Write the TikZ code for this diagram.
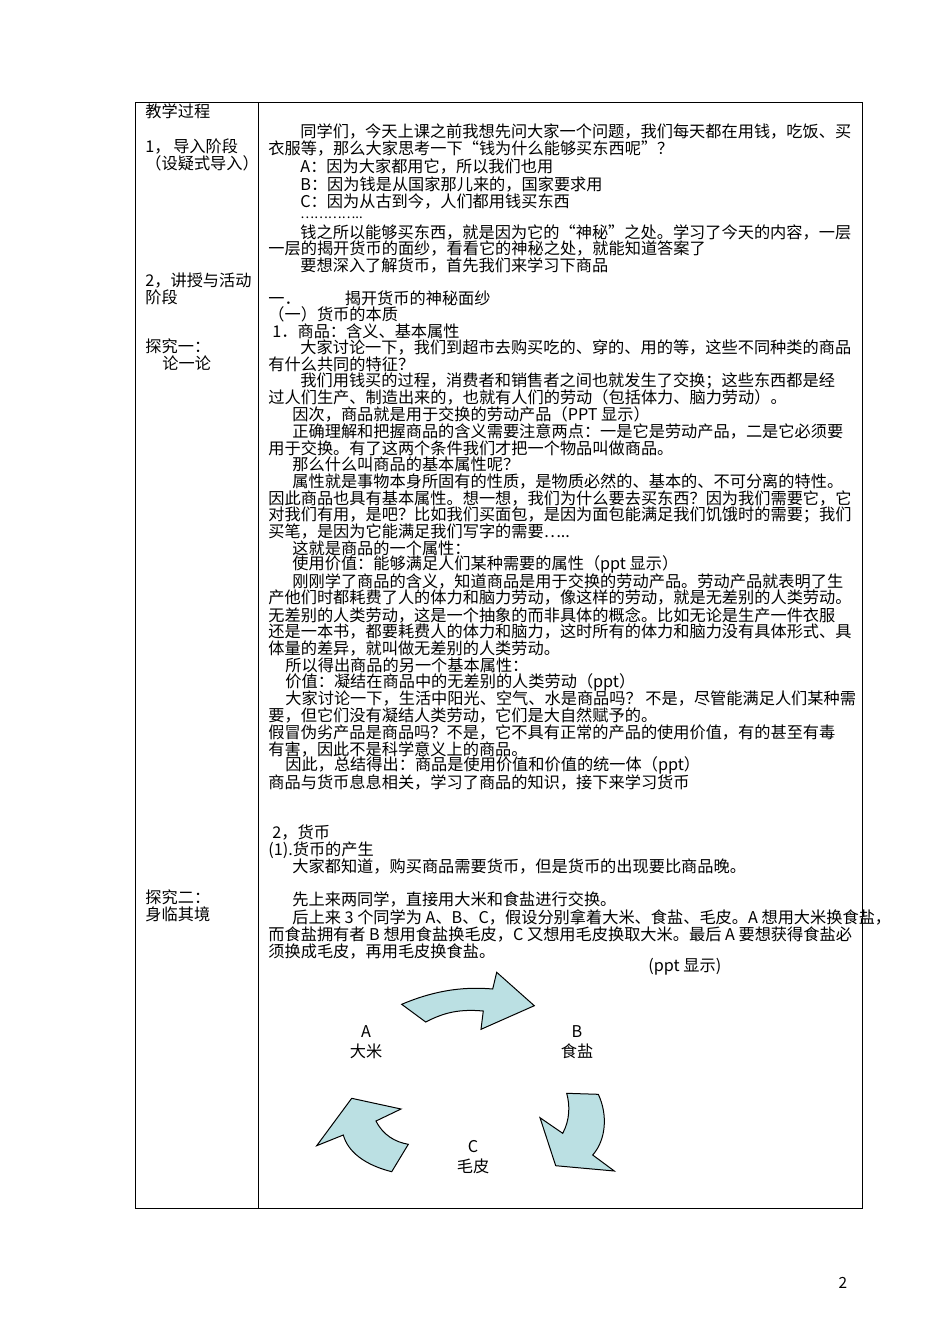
\documentclass[tikz,border=0pt]{standalone}
\usepackage{fontspec}
\setmainfont{Noto Sans CJK SC}
\begin{document}
\begin{tikzpicture}[x=0.5pt,y=-0.5pt,
  txt/.style={anchor=west,inner sep=0pt,font=\fontsize{8.1pt}{9pt}\selectfont},
  arr/.style={draw=black,line width=0.5pt,fill=arrowblue,line join=miter}]
\definecolor{arrowblue}{RGB}{187,224,227}
\useasboundingbox (0,0) rectangle (950,1344);
\draw[line width=0.5pt] (135,102) rectangle (862,1208);
\draw[line width=0.5pt] (258,102) -- (258,1208);
\node[anchor=center,inner sep=0pt,font=\fontsize{7.7pt}{9pt}\selectfont] (pg) at (843,1283) {2};
% left column
\node[txt] (l1) at (145,111) {教学过程};
\node[txt] (l2) at (145,147) {1，\,导入阶段};
\node[txt] (l3) at (145,163) {（设疑式导入）};
\node[txt] (l4) at (145,281) {2，讲授与活动};
\node[txt] (l5) at (145,297) {阶段};
\node[txt] (l6) at (145,346) {探究一：};
\node[txt] (l7) at (162,363) {论一论};
\node[txt] (l8) at (145,897) {探究二：};
\node[txt] (l9) at (145,914) {身临其境};
% right column
\node[txt] at (300,131) {同学们，今天上课之前我想先问大家一个问题，我们每天都在用钱，吃饭、买};
\node[txt] at (268,149) {衣服等，那么大家思考一下“钱为什么能够买东西呢”？};
\node[txt] at (300,167) {A：因为大家都用它，所以我们也用};
\node[txt] at (300,185) {B：因为钱是从国家那儿来的，国家要求用};
\node[txt] at (300,202) {C：因为从古到今，人们都用钱买东西};
\node[txt,font=\fontsize{6.5pt}{7pt}\selectfont] at (300,218) {…………..};
\node[txt] at (300,232) {钱之所以能够买东西，就是因为它的“神秘”之处。学习了今天的内容，一层};
\node[txt] at (268,249) {一层的揭开货币的面纱，看看它的神秘之处，就能知道答案了};
\node[txt] at (300,265) {要想深入了解货币，首先我们来学习下商品};
\node[txt] at (268,298) {一．\hspace{22pt}揭开货币的神秘面纱};
\node[txt] at (268,314) {（一）货币的本质};
\node[txt] at (272,331) {1．商品：含义、基本属性};
\node[txt] at (300,347) {大家讨论一下，我们到超市去购买吃的、穿的、用的等，这些不同种类的商品};
\node[txt] at (268,364) {有什么共同的特征？};
\node[txt] at (300,381) {我们用钱买的过程，消费者和销售者之间也就发生了交换；这些东西都是经};
\node[txt] at (268,397) {过人们生产、制造出来的，也就有人们的劳动（包括体力、脑力劳动）。};
\node[txt] at (292,414) {因次，商品就是用于交换的劳动产品（PPT 显示）};
\node[txt] at (292,431) {正确理解和把握商品的含义需要注意两点：一是它是劳动产品，二是它必须要};
\node[txt] at (268,448) {用于交换。有了这两个条件我们才把一个物品叫做商品。};
\node[txt] at (292,464) {那么什么叫商品的基本属性呢？};
\node[txt] at (292,481) {属性就是事物本身所固有的性质，是物质必然的、基本的、不可分离的特性。};
\node[txt] at (268,498) {因此商品也具有基本属性。想一想，我们为什么要去买东西？因为我们需要它，它};
\node[txt] at (268,515) {对我们有用，是吧？比如我们买面包，是因为面包能满足我们饥饿时的需要；我们};
\node[txt] at (268,531) {买笔，是因为它能满足我们写字的需要…..};
\node[txt] at (292,548) {这就是商品的一个属性：};
\node[txt] at (292,564) {使用价值：能够满足人们某种需要的属性（ppt 显示）};
\node[txt] at (292,581) {刚刚学了商品的含义，知道商品是用于交换的劳动产品。劳动产品就表明了生};
\node[txt] at (268,598) {产他们时都耗费了人的体力和脑力劳动，像这样的劳动，就是无差别的人类劳动。};
\node[txt] at (268,615) {无差别的人类劳动，这是一个抽象的而非具体的概念。比如无论是生产一件衣服};
\node[txt] at (268,632) {还是一本书，都要耗费人的体力和脑力，这时所有的体力和脑力没有具体形式、具};
\node[txt] at (268,649) {体量的差异，就叫做无差别的人类劳动。};
\node[txt] at (285,665) {所以得出商品的另一个基本属性：};
\node[txt] at (285,682) {价值：凝结在商品中的无差别的人类劳动（ppt）};
\node[txt] at (285,698) {大家讨论一下，生活中阳光、空气、水是商品吗？\ 不是，尽管能满足人们某种需};
\node[txt] at (268,715) {要，但它们没有凝结人类劳动，它们是大自然赋予的。};
\node[txt] at (268,732) {假冒伪劣产品是商品吗？不是，它不具有正常的产品的使用价值，有的甚至有毒};
\node[txt] at (268,749) {有害，因此不是科学意义上的商品。};
\node[txt] at (285,765) {因此，总结得出：商品是使用价值和价值的统一体（ppt）};
\node[txt] at (268,782) {商品与货币息息相关，学习了商品的知识，接下来学习货币};
\node[txt] at (272,833) {2，货币};
\node[txt] at (268,850) {(1).货币的产生};
\node[txt] at (292,866) {大家都知道，购买商品需要货币，但是货币的出现要比商品晚。};
\node[txt] at (292,899) {先上来两同学，直接用大米和食盐进行交换。};
\node[txt] at (292,917) {后上来 3 个同学为 A、B、C，假设分别拿着大米、食盐、毛皮。A 想用大米换食盐，};
\node[txt] at (268,934) {而食盐拥有者 B 想用食盐换毛皮，C 又想用毛皮换取大米。最后 A 要想获得食盐必};
\node[txt] at (268,951) {须换成毛皮，再用毛皮换食盐。};
\node[txt] (ppt) at (648,967) {(ppt 显示)};
% diagram
\node[anchor=center,inner sep=0pt,font=\fontsize{8.1pt}{9pt}\selectfont,align=center] (A) at (366,1042) {A\\[1pt]大米};
\node[anchor=center,inner sep=0pt,font=\fontsize{8.1pt}{9pt}\selectfont,align=center] (B) at (577,1042) {B\\[1pt]食盐};
\node[anchor=center,inner sep=0pt,font=\fontsize{8.1pt}{9pt}\selectfont,align=center] (C) at (473,1157) {C\\[1pt]毛皮};
\path[arr] (401.7,1004.3) .. controls (440,988) and (470,987) .. (492.7,989) -- (496.7,972.3) -- (534.3,1005.7) -- (481,1029.3) -- (483.3,1011) .. controls (460,1009) and (445,1012) .. (425.7,1022) -- cycle;
\path[arr] (566.7,1093.3) -- (598.3,1094.3) .. controls (608,1115) and (606,1140) .. (592.7,1155) -- (614.3,1171) -- (555.7,1165.7) -- (540,1117.7) -- (562.7,1133.3) .. controls (570,1120) and (570,1105) .. (566.7,1093.3) -- cycle;
\path[arr] (316.7,1145.7) -- (351.7,1098.3) -- (401,1109) -- (376,1121) .. controls (383,1135) and (395,1142) .. (408.3,1144.3) -- (391.7,1171.7) .. controls (365,1165) and (348,1152) .. (343.3,1135) -- cycle;
\end{tikzpicture}
\end{document}
